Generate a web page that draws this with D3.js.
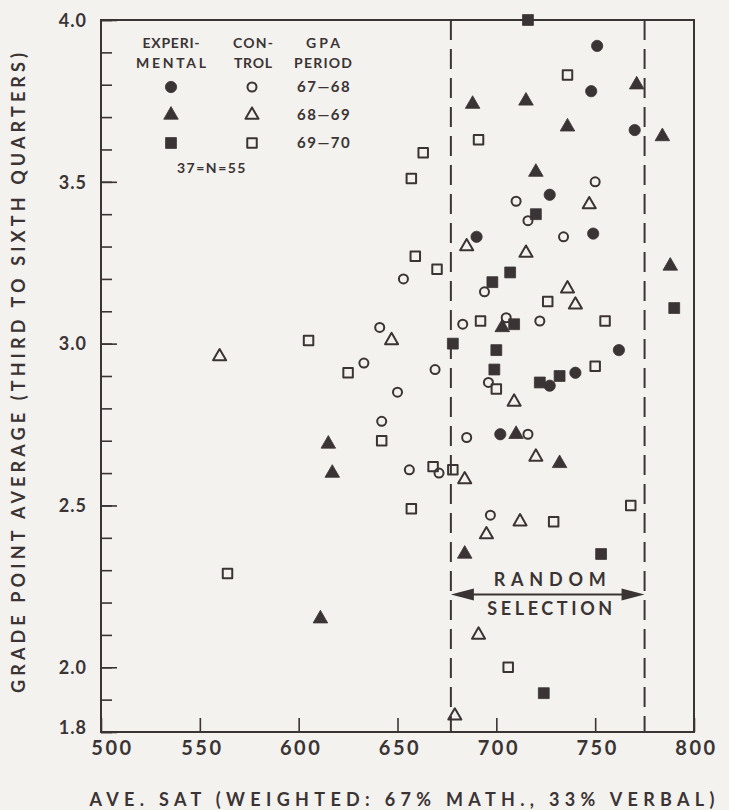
<!DOCTYPE html>
<html>
<head>
<meta charset="utf-8">
<script src="https://cdn.jsdelivr.net/npm/d3@7"></script>
<style>
  body { margin: 0; background: #f4f2ee; }
  svg { display: block; }
  text { font-family: Lato, "DejaVu Sans", sans-serif; font-weight: 700; fill: #3b3435; }
</style>
</head>
<body>
<div id="chart"></div>
<script>
"use strict";

// experimental groups (filled marks): [SAT, GPA]
const exp6768 = [[751, 3.92], [748, 3.78], [770, 3.66], [727, 3.46], [749, 3.34],
  [690, 3.33], [762, 2.98], [740, 2.91], [727, 2.87], [702, 2.72]];
const exp6869 = [[688, 3.74], [715, 3.75], [736, 3.67], [771, 3.80], [784, 3.64],
  [720, 3.53], [788, 3.24], [703, 3.05], [710, 2.72], [732, 2.63], [615, 2.69],
  [617, 2.60], [684, 2.35], [611, 2.15]];
const exp6970 = [[716, 4.0], [720, 3.40], [707, 3.22], [698, 3.19], [709, 3.06],
  [790, 3.11], [678, 3.00], [700, 2.98], [699, 2.92], [732, 2.90], [722, 2.88],
  [753, 2.35], [724, 1.92]];

// control groups (open marks)
const con6768 = [[710, 3.44], [750, 3.50], [716, 3.38], [734, 3.33], [694, 3.16],
  [653, 3.20], [683, 3.06], [705, 3.08], [722, 3.07], [641, 3.05], [633, 2.94],
  [669, 2.92], [696, 2.88], [650, 2.85], [642, 2.76], [685, 2.71], [716, 2.72],
  [656, 2.61], [671, 2.60], [697, 2.47]];
const con6869 = [[747, 3.43], [685, 3.30], [715, 3.28], [736, 3.17], [740, 3.12],
  [647, 3.01], [560, 2.96], [709, 2.82], [720, 2.65], [684, 2.58], [712, 2.45],
  [695, 2.41], [691, 2.10], [679, 1.85]];
const con6970 = [[736, 3.83], [691, 3.63], [663, 3.59], [657, 3.51], [659, 3.27],
  [670, 3.23], [692, 3.07], [726, 3.13], [755, 3.07], [605, 3.01], [625, 2.91],
  [750, 2.93], [700, 2.86], [642, 2.70], [668, 2.62], [678, 2.61], [657, 2.49],
  [768, 2.50], [729, 2.45], [564, 2.29], [706, 2.00]];

const periods = ["67\u201468", "68\u201469", "69\u201470"];
const xTicks = [500, 550, 600, 650, 700, 750, 800];
const yTicks = [1.8, 2.0, 2.5, 3.0, 3.5, 4.0];
const randomBounds = [677, 775];
const randomArrowGpa = 2.225;

const ink = "#3b3435";
const width = 729;
const height = 810;
const plot = { left: 101, right: 694, top: 20, bottom: 732 };

const svg = d3.select("#chart")
  .append("svg")
  .attr("width", width)
  .attr("height", height);

svg.append("rect").attr("width", width).attr("height", height).attr("fill", "#f4f2ee");

const x = d3.scaleLinear().domain([500, 800]).range([plot.left, plot.right]);
const y = d3.scaleLinear().domain([1.8, 4.0]).range([plot.bottom, plot.top]);

// frame
svg.append("rect")
  .attr("x", plot.left).attr("y", plot.top)
  .attr("width", plot.right - plot.left).attr("height", plot.bottom - plot.top)
  .attr("fill", "none").attr("stroke", ink).attr("stroke-width", 2);

// x axis, ticks pointing into the plot
const xAxis = svg.append("g")
  .attr("transform", `translate(0,${plot.bottom})`)
  .call(d3.axisBottom(x).tickValues(xTicks).tickSize(-14).tickPadding(9).tickFormat(d3.format("d")));
xAxis.select(".domain").remove();
xAxis.selectAll("line").attr("stroke", ink).attr("stroke-width", 1.6);
xAxis.selectAll("text")
  .attr("font-size", 20).attr("letter-spacing", 2.5).attr("fill", ink)
  .attr("dx", d => (d === 500 ? 11 : 2));

// y axis: minor ticks every 0.1, longer at labelled values
const yMinor = svg.append("g")
  .attr("transform", `translate(${plot.left},0)`)
  .call(d3.axisLeft(y).tickValues(d3.range(18, 41).map(d => d / 10)).tickSize(-11).tickFormat(""));
yMinor.select(".domain").remove();
yMinor.selectAll("line").attr("stroke", ink).attr("stroke-width", 1.6);

const yAxis = svg.append("g")
  .attr("transform", `translate(${plot.left},0)`)
  .call(d3.axisLeft(y).tickValues(yTicks).tickSize(-16).tickPadding(14).tickFormat(d3.format(".1f")));
yAxis.select(".domain").remove();
yAxis.selectAll("line").attr("stroke", ink).attr("stroke-width", 1.6);
yAxis.selectAll("text").attr("font-size", 18).attr("letter-spacing", 1).attr("fill", ink)
  .attr("dy", d => (d === 1.8 ? "0.1em" : "0.35em"));

// axis titles
svg.append("text")
  .attr("x", 402).attr("y", 806)
  .attr("text-anchor", "middle")
  .attr("font-size", 18)
  .attr("textLength", 625).attr("lengthAdjust", "spacing")
  .text("AVE. SAT (WEIGHTED: 67% MATH., 33% VERBAL)");

svg.append("text")
  .attr("transform", "translate(25,373) rotate(-90)")
  .attr("text-anchor", "middle")
  .attr("font-size", 18)
  .attr("textLength", 640).attr("lengthAdjust", "spacing")
  .text("GRADE POINT AVERAGE (THIRD TO SIXTH QUARTERS)");

// random selection band
randomBounds.forEach(v => {
  svg.append("line")
    .attr("x1", x(v)).attr("x2", x(v))
    .attr("y1", plot.top).attr("y2", plot.bottom)
    .attr("stroke", ink).attr("stroke-width", 2)
    .attr("stroke-dasharray", "20,9");
});

const ay = y(randomArrowGpa);
const ax0 = x(randomBounds[0]);
const ax1 = x(randomBounds[1]);
svg.append("line")
  .attr("x1", ax0 + 10).attr("x2", ax1 - 10)
  .attr("y1", ay).attr("y2", ay)
  .attr("stroke", ink).attr("stroke-width", 2);
svg.append("path")
  .attr("d", `M${ax0},${ay}L${ax0 + 23},${ay - 6}L${ax0 + 23},${ay + 6}Z`)
  .attr("fill", ink);
svg.append("path")
  .attr("d", `M${ax1},${ay}L${ax1 - 23},${ay - 6}L${ax1 - 23},${ay + 6}Z`)
  .attr("fill", ink);

const midX = (ax0 + ax1) / 2 + 2;
svg.append("text")
  .attr("x", midX).attr("y", y(2.272) + 7)
  .attr("text-anchor", "middle").attr("font-size", 18)
  .attr("textLength", 112).attr("lengthAdjust", "spacing")
  .text("RANDOM");
svg.append("text")
  .attr("x", midX).attr("y", y(2.183) + 7)
  .attr("text-anchor", "middle").attr("font-size", 18)
  .attr("textLength", 125).attr("lengthAdjust", "spacing")
  .text("SELECTION");

// markers
const styles = [
  { data: exp6768, type: d3.symbolCircle, size: 100, filled: true },
  { data: exp6869, type: d3.symbolTriangle, size: 92, filled: true },
  { data: exp6970, type: d3.symbolSquare, size: 118, filled: true },
  { data: con6768, type: d3.symbolCircle, size: 64, filled: false },
  { data: con6869, type: d3.symbolTriangle, size: 74, filled: false },
  { data: con6970, type: d3.symbolSquare, size: 90, filled: false }
];

const drawMarks = (sel, s) => {
  sel.attr("d", d3.symbol().type(s.type).size(s.size))
    .attr("fill", s.filled ? ink : "none")
    .attr("stroke", ink)
    .attr("stroke-width", s.filled ? 0.8 : 2)
    .attr("stroke-linejoin", "round");
};

styles.forEach(s => {
  svg.append("g")
    .selectAll("path")
    .data(s.data)
    .enter()
    .append("path")
    .attr("transform", d => `translate(${x(d[0])},${y(d[1])})`)
    .call(drawMarks, s);
});

// legend
const leg = svg.append("g").attr("transform", "translate(171,0)");
const headers = [
  { dx: 0, lines: ["EXPERI-", "MENTAL"], w: [57, 70] },
  { dx: 82, lines: ["CON-", "TROL"], w: [40, 38] },
  { dx: 152, lines: ["GPA", "PERIOD"], w: [34, 58] }
];
headers.forEach(h => {
  h.lines.forEach((t, i) => {
    leg.append("text")
      .attr("x", h.dx).attr("y", 48 + i * 20)
      .attr("text-anchor", "middle").attr("font-size", 14)
      .attr("textLength", h.w[i]).attr("lengthAdjust", "spacing")
      .text(t);
  });
});

periods.forEach((p, i) => {
  const yy = 87 + i * 28;
  leg.append("path")
    .attr("transform", `translate(0,${yy})`)
    .call(drawMarks, styles[i]);
  leg.append("path")
    .attr("transform", `translate(81,${yy})`)
    .call(drawMarks, styles[i + 3]);
  leg.append("text")
    .attr("x", 126).attr("y", yy + 5)
    .attr("font-size", 15).attr("letter-spacing", 1.5)
    .text(p);
});

leg.append("text")
  .attr("x", 41).attr("y", 173)
  .attr("text-anchor", "middle").attr("font-size", 14)
  .attr("letter-spacing", 1.5)
  .text("37=N=55");
</script>
</body>
</html>
